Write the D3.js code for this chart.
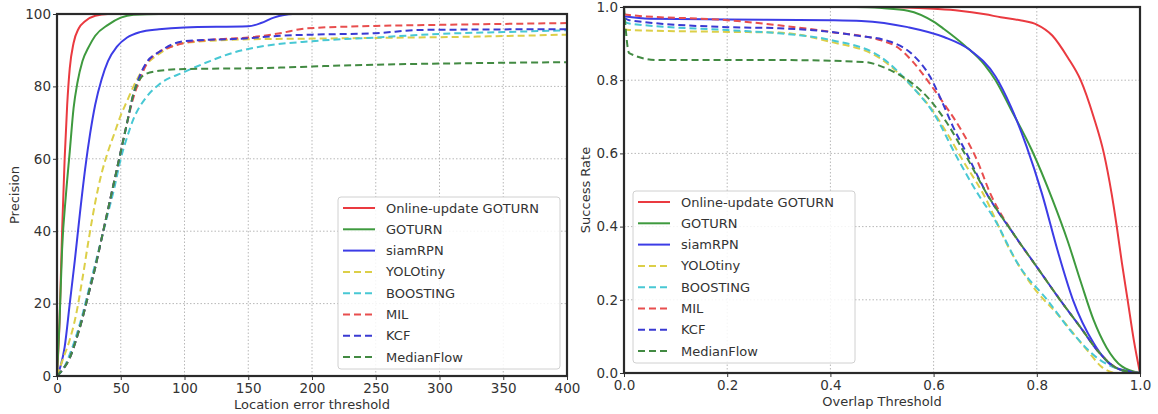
<!DOCTYPE html>
<html>
<head>
<meta charset="utf-8">
<style>
  body { margin: 0; background: #fff; }
  text { font-family: "DejaVu Sans", sans-serif; fill: #333; }
</style>
<script src="https://d3js.org/d3.v7.min.js"></script>
</head>
<body>
<svg width="1158" height="414"></svg>
<script>
// series names, legend order
var names = ["Online-update GOTURN", "GOTURN", "siamRPN", "YOLOtiny", "BOOSTING", "MIL", "KCF", "MedianFlow"];

// precision plot: [location error threshold, precision]
var precOnline = [[0,0],[2,15],[4,40],[6,60],[8,75],[10,85],[13,92],[17,96],[22,98],[30,99.5],[40,100],[400,100]];
var precGoturn = [[0,0],[2,15],[4,35],[7,50],[10,62],[13,74],[16,81],[20,87],[25,91],[30,94],[40,97],[50,99],[60,99.8],[80,100],[400,100]];
var precSiam = [[0,0],[3,3],[6,8],[10,20],[14,32],[18,45],[22,57],[26,67],[30,75],[35,82],[40,87],[47,91],[55,93.5],[65,95],[80,95.8],[100,96.3],[150,96.6],[160,97.5],[170,99],[185,100],[400,100]];
var precYolo = [[0,0],[5,5],[10,10],[15,17],[20,27],[25,38],[30,48],[35,56],[40,62],[45,67],[50,72],[55,76],[60,80],[70,86],[80,89],[100,92],[150,93],[200,93.2],[250,93.4],[300,93.6],[350,93.9],[400,94.3]];
var precBoosting = [[0,0],[5,2],[10,6],[15,11],[20,17],[25,24],[30,31],[35,38],[40,45],[45,52],[50,60],[55,66],[60,71],[70,77],[80,80.5],[100,84],[120,87],[140,89.5],[160,91],[200,92.5],[250,93.5],[300,94.5],[350,95],[400,95.5]];
var precMil = [[0,0],[5,2],[10,5],[15,10],[20,16],[25,23],[30,30],[35,38],[40,46],[45,54],[50,62],[55,70],[60,77],[65,82],[70,86],[80,89.5],[90,91],[100,92],[125,93],[150,93.5],[175,94.7],[195,96],[250,96.7],[300,97],[400,97.5]];
var precKcf = [[0,0],[5,2],[10,5],[15,10],[20,16],[25,23],[30,30],[35,38],[40,46],[45,54],[50,62],[55,70],[60,78],[65,83],[70,86.5],[80,89.5],[100,92.5],[150,93.3],[175,94],[200,94.3],[250,94.7],[285,95.6],[400,95.8]];
var precMedian = [[0,0],[5,2],[10,5],[15,10],[20,16],[25,23],[30,30],[35,38],[40,46],[45,54],[50,62],[55,70],[60,78],[65,82],[70,83.5],[80,84.3],[100,84.8],[150,85],[175,85.2],[200,85.5],[250,86],[300,86.3],[400,86.7]];

// success plot: [overlap threshold, success rate]
var succOnline = [[0,1],[0.5,1],[0.6,0.995],[0.65,0.99],[0.7,0.98],[0.73,0.972],[0.77,0.963],[0.8,0.952],[0.83,0.922],[0.86,0.862],[0.885,0.8],[0.91,0.7],[0.93,0.6],[0.945,0.49],[0.955,0.4],[0.965,0.3],[0.976,0.2],[0.988,0.09],[1,0]];
var succGoturn = [[0,1],[0.45,1],[0.5,0.997],[0.55,0.99],[0.6,0.96],[0.62,0.94],[0.66,0.895],[0.7,0.84],[0.72,0.8],[0.75,0.72],[0.79,0.61],[0.83,0.475],[0.86,0.36],[0.885,0.25],[0.91,0.145],[0.935,0.07],[0.965,0.018],[1,0]];
var succSiam = [[0,0.975],[0.05,0.968],[0.2,0.966],[0.4,0.964],[0.46,0.962],[0.55,0.945],[0.62,0.918],[0.67,0.883],[0.72,0.81],[0.75,0.727],[0.78,0.62],[0.81,0.49],[0.84,0.336],[0.87,0.2],[0.91,0.082],[0.95,0.016],[1,0]];
var succYolo = [[0,0.94],[0.01,0.937],[0.2,0.932],[0.3,0.93],[0.4,0.905],[0.496,0.86],[0.56,0.78],[0.593,0.727],[0.626,0.655],[0.657,0.58],[0.696,0.49],[0.748,0.336],[0.793,0.235],[0.845,0.153],[0.897,0.063],[0.928,0.014],[0.95,0]];
var succBoosting = [[0,0.96],[0.01,0.955],[0.2,0.937],[0.3,0.928],[0.4,0.91],[0.496,0.865],[0.56,0.78],[0.6,0.71],[0.645,0.59],[0.69,0.48],[0.716,0.425],[0.767,0.29],[0.82,0.2],[0.87,0.108],[0.922,0.036],[0.96,0.01],[1,0]];
var succMil = [[0,0.98],[0.01,0.978],[0.2,0.964],[0.3,0.95],[0.4,0.932],[0.5,0.908],[0.53,0.89],[0.56,0.85],[0.593,0.79],[0.618,0.74],[0.65,0.672],[0.684,0.582],[0.71,0.49],[0.755,0.38],[0.8,0.29],[0.845,0.2],[0.884,0.126],[0.922,0.054],[0.96,0.01],[1,0]];
var succKcf = [[0,0.97],[0.01,0.964],[0.2,0.945],[0.3,0.942],[0.4,0.932],[0.45,0.922],[0.517,0.905],[0.56,0.869],[0.593,0.81],[0.612,0.755],[0.638,0.672],[0.664,0.6],[0.703,0.49],[0.755,0.38],[0.8,0.29],[0.845,0.2],[0.884,0.126],[0.922,0.054],[0.96,0.01],[1,0]];
var succMedian = [[0,1],[0.01,0.874],[0.064,0.855],[0.3,0.855],[0.463,0.85],[0.515,0.828],[0.56,0.79],[0.593,0.746],[0.626,0.683],[0.664,0.59],[0.703,0.49],[0.755,0.38],[0.8,0.29],[0.845,0.2],[0.884,0.126],[0.922,0.054],[0.96,0.01],[1,0]];

var colors = ["#ea3a40", "#3e9a3e", "#3c3ce6", "#dccf48", "#48c8d4", "#e84e4e", "#3a3ad2", "#428a42"];
var dashed = [false, false, false, true, true, true, true, true];

var precTicksX = [0, 50, 100, 150, 200, 250, 300, 350, 400];
var precTicksY = [0, 20, 40, 60, 80, 100];
var succTicks = [0, 0.2, 0.4, 0.6, 0.8, 1.0];

var svg = d3.select("svg");

function panel(opts) {
  var x = d3.scaleLinear().domain(opts.xDomain).range(opts.xRange);
  var y = d3.scaleLinear().domain(opts.yDomain).range(opts.yRange);
  var g = svg.append("g");

  // grid
  g.append("g").selectAll("line").data(opts.xTicks).join("line")
    .attr("x1", d => x(d)).attr("x2", d => x(d))
    .attr("y1", opts.yRange[0]).attr("y2", opts.yRange[1])
    .attr("stroke", "#b8b8b8").attr("stroke-dasharray", "1.5,2");
  g.append("g").selectAll("line").data(opts.yTicks).join("line")
    .attr("y1", d => y(d)).attr("y2", d => y(d))
    .attr("x1", opts.xRange[0]).attr("x2", opts.xRange[1])
    .attr("stroke", "#b8b8b8").attr("stroke-dasharray", "1.5,2");

  var line = d3.line().x(d => x(d[0])).y(d => y(d[1])).curve(d3.curveMonotoneX);
  opts.series.forEach(function(s, i) {
    g.append("path").datum(s)
      .attr("fill", "none")
      .attr("stroke", colors[i])
      .attr("stroke-width", 2)
      .attr("stroke-dasharray", dashed[i] ? "7,4" : null)
      .attr("d", line);
  });

  // axes
  var ax = g.append("g").attr("transform", "translate(0," + opts.yRange[0] + ")")
    .call(d3.axisBottom(x).tickValues(opts.xTicks).tickFormat(opts.xFmt).tickSize(4).tickPadding(3));
  var ay = g.append("g").attr("transform", "translate(" + opts.xRange[0] + ",0)")
    .call(d3.axisLeft(y).tickValues(opts.yTicks).tickFormat(opts.yFmt).tickSize(4).tickPadding(2));
  [ax, ay].forEach(function(a) {
    a.select(".domain").remove();
    a.selectAll("line").attr("stroke", "#333");
    a.selectAll("text").style("font-size", "13.5px").attr("fill", "#3a3a3a");
  });

  g.append("rect")
    .attr("x", opts.xRange[0]).attr("y", opts.yRange[1])
    .attr("width", opts.xRange[1] - opts.xRange[0])
    .attr("height", opts.yRange[0] - opts.yRange[1])
    .attr("fill", "none").attr("stroke", "#2a2a2a").attr("stroke-width", 2.2);

  // labels
  g.append("text")
    .attr("x", (opts.xRange[0] + opts.xRange[1]) / 2).attr("y", opts.yRange[0] + 33)
    .attr("text-anchor", "middle").style("font-size", "13px").text(opts.xLabel);
  g.append("text")
    .attr("transform", "translate(" + opts.yLabelX + "," + (opts.yRange[0] + opts.yRange[1]) / 2 + ") rotate(-90)")
    .attr("text-anchor", "middle").style("font-size", "13px").text(opts.yLabel);

  // legend
  var lg = g.append("g").attr("transform", "translate(" + opts.legend[0] + "," + opts.legend[1] + ")");
  lg.append("rect").attr("width", opts.legend[2]).attr("height", 172).attr("rx", 3)
    .attr("fill", "#fff").attr("fill-opacity", 0.85).attr("stroke", "#d0d0d0");
  names.forEach(function(n, i) {
    var yy = 11 + i * 21.3;
    lg.append("line").attr("x1", 5).attr("x2", 37).attr("y1", yy).attr("y2", yy)
      .attr("stroke", colors[i]).attr("stroke-width", 2)
      .attr("stroke-dasharray", dashed[i] ? "7,4" : null);
    lg.append("text").attr("x", 48).attr("y", yy + 4.5).style("font-size", "13px").text(n);
  });
}

panel({
  xDomain: [0, 400], yDomain: [0, 100],
  xRange: [57, 567], yRange: [376, 14],
  xTicks: precTicksX, yTicks: precTicksY,
  xFmt: d3.format("d"), yFmt: d3.format("d"),
  series: [precOnline, precGoturn, precSiam, precYolo, precBoosting, precMil, precKcf, precMedian],
  xLabel: "Location error threshold", yLabel: "Precision", yLabelX: 19,
  legend: [338, 197, 222]
});

panel({
  xDomain: [0, 1], yDomain: [0, 1],
  xRange: [624, 1140], yRange: [373, 7],
  xTicks: succTicks, yTicks: succTicks,
  xFmt: d3.format(".1f"), yFmt: d3.format(".1f"),
  series: [succOnline, succGoturn, succSiam, succYolo, succBoosting, succMil, succKcf, succMedian],
  xLabel: "Overlap Threshold", yLabel: "Success Rate", yLabelX: 590,
  legend: [633, 191, 222]
});
</script>
</body>
</html>
